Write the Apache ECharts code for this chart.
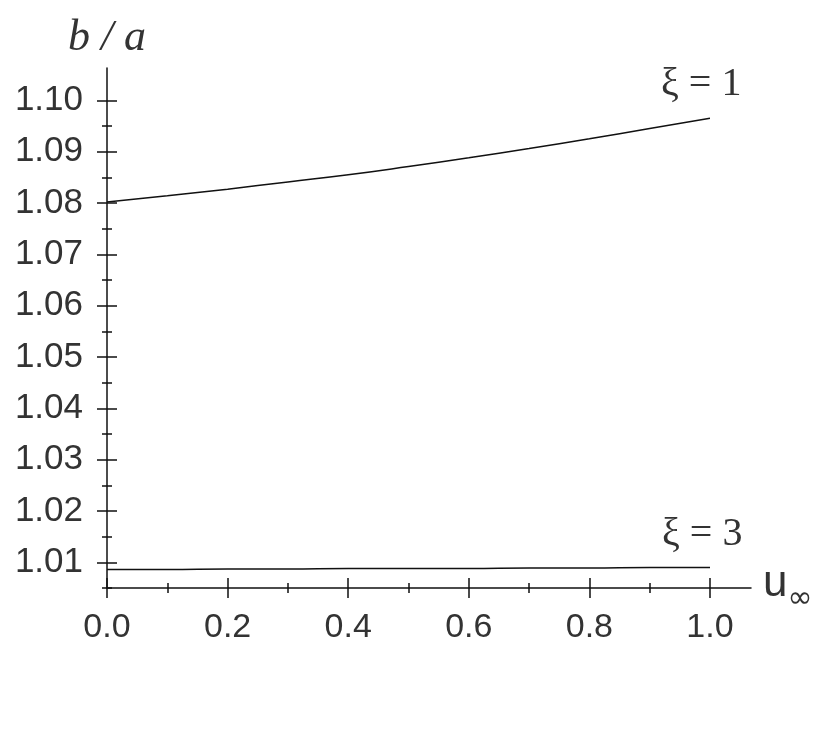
<!DOCTYPE html>
<html>
<head>
<meta charset="utf-8">
<script src="https://cdn.jsdelivr.net/npm/echarts@6/dist/echarts.min.js"></script>
<style>
  * { margin: 0; padding: 0; }
  #chart-container { width: 830px; height: 731px; background: #fff; }
</style>
</head>
<body>
<div id="chart-container"></div>
<script>
  // u_inf values along the x axis
  var uValues = [0, 0.1, 0.2, 0.3, 0.4, 0.5, 0.6, 0.7, 0.8, 0.9, 1.0]
  var xi1 = [1.0802, 1.0814, 1.0827, 1.0841, 1.0855, 1.0871, 1.0888, 1.0906, 1.0925, 1.0945, 1.0965]
  var xi3 = [1.0086, 1.0086, 1.0087, 1.0087, 1.0088, 1.0088, 1.0088, 1.0089, 1.0089, 1.0090, 1.0090]
  // tick labels
  var xMajor = [0, 0.2, 0.4, 0.6, 0.8, 1.0]
  var xMinor = [0.1, 0.3, 0.5, 0.7, 0.9]
  var yMajor = [1.01, 1.02, 1.03, 1.04, 1.05, 1.06, 1.07, 1.08, 1.09, 1.10]
  var yMinor = [1.005, 1.015, 1.025, 1.035, 1.045, 1.055, 1.065, 1.075, 1.085, 1.095]

  var xMin = 0, xMax = 1.068
  var yMin = 1.005, yMax = 1.1063

  var chartDom = document.getElementById('chart-container')
  var myChart = echarts.init(chartDom, null, { renderer: 'canvas' })

  function pairs(ys) {
    return uValues.map(function (u, i) { return [u, ys[i]] })
  }

  function tickAxis(vals, len, inside, withLine) {
    return {
      type: 'value',
      min: xMin,
      max: xMax,
      position: 'bottom',
      axisLine: { show: !!withLine, onZero: false, lineStyle: { color: '#111', width: 1.5 } },
      axisTick: { show: true, inside: inside, length: len, customValues: vals, lineStyle: { color: '#111', width: 1.5 } },
      axisLabel: { show: false },
      splitLine: { show: false }
    }
  }
  function yTickAxis(vals, len, inside) {
    return {
      type: 'value',
      min: yMin,
      max: yMax,
      position: 'left',
      axisLine: { show: false, onZero: false },
      axisTick: { show: true, inside: inside, length: len, customValues: vals, lineStyle: { color: '#111', width: 1.5 } },
      axisLabel: { show: false },
      splitLine: { show: false }
    }
  }

  var mainX = tickAxis(xMajor, 10, false, true)
  mainX.axisLabel = {
    show: true,
    customValues: xMajor,
    formatter: function (v) { return v.toFixed(1) },
    fontFamily: 'Liberation Sans, Arial, sans-serif',
    fontSize: 34,
    color: '#333',
    margin: 23
  }
  mainX.name = '{u|u}{s|∞}'
  mainX.nameLocation = 'end'
  mainX.nameGap = 12
  mainX.nameTextStyle = {
    rich: {
      u: { fontFamily: 'Liberation Sans, Arial, sans-serif', fontSize: 44, color: '#333', padding: [0, 0, 8, 0] },
      s: { fontFamily: 'DejaVu Sans, sans-serif', fontSize: 30, color: '#333', padding: [22, 0, 0, 0] }
    }
  }

  var mainY = yTickAxis(yMajor, 10, false)
  mainY.axisLine = { show: true, onZero: false, lineStyle: { color: '#111', width: 1.5 } }
  mainY.axisLabel = {
    show: true,
    customValues: yMajor,
    formatter: function (v) { return v.toFixed(2) },
    fontFamily: 'Liberation Sans, Arial, sans-serif',
    fontSize: 35,
    color: '#333',
    margin: 24
  }
  mainY.name = 'b / a'
  mainY.nameLocation = 'end'
  mainY.nameGap = 8
  mainY.nameTextStyle = {
    fontFamily: 'Liberation Serif, Times New Roman, serif',
    fontStyle: 'italic',
    fontSize: 44,
    color: '#333',
    align: 'center'
  }

  var option = {
    animation: false,
    grid: { left: 107, right: 79, top: 68, bottom: 143, containLabel: false },
    xAxis: [
      mainX,
      tickAxis(xMajor, 10, true, false),
      tickAxis(xMinor, 5, false, false),
      tickAxis(xMinor, 5, true, false)
    ],
    yAxis: [
      mainY,
      yTickAxis(yMajor, 10, true),
      yTickAxis(yMinor, 5, false),
      yTickAxis(yMinor, 5, true)
    ],
    series: [
      {
        type: 'line',
        name: 'ξ = 1',
        data: pairs(xi1),
        smooth: true,
        showSymbol: false,
        lineStyle: { color: '#111', width: 1.5 }
      },
      {
        type: 'line',
        name: 'ξ = 3',
        data: pairs(xi3),
        smooth: true,
        showSymbol: false,
        lineStyle: { color: '#111', width: 1.5 }
      }
    ],
    graphic: [
      {
        type: 'text',
        left: 661,
        top: 64,
        style: { text: 'ξ = 1', font: '40px "Liberation Serif", serif', fill: '#333' }
      },
      {
        type: 'text',
        left: 662,
        top: 514,
        style: { text: 'ξ = 3', font: '40px "Liberation Serif", serif', fill: '#333' }
      }
    ]
  }
  myChart.setOption(option)
  window.addEventListener('resize', myChart.resize)
</script>
</body>
</html>
